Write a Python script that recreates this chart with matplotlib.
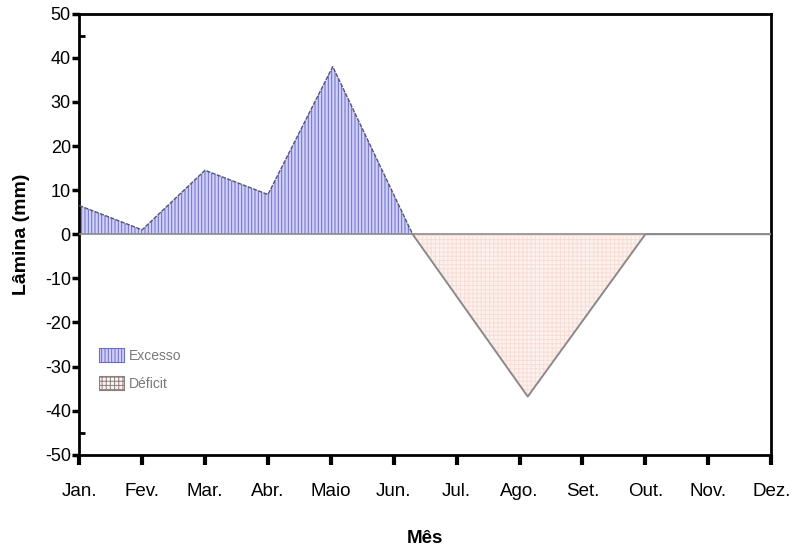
import numpy as np
import matplotlib.pyplot as plt
from matplotlib.patches import Patch

plt.rcParams['font.family'] = ['Liberation Sans', 'DejaVu Sans']
plt.rcParams['axes.unicode_minus'] = False
plt.rcParams['hatch.linewidth'] = 0.7

# dados (posicao em meses a partir de Jan.)
meses = ['Jan.', 'Fev.', 'Mar.', 'Abr.', 'Maio', 'Jun.', 'Jul.', 'Ago.', 'Set.', 'Out.', 'Nov.', 'Dez.']
mes_pos = [0, 1, 2, 3, 4.03, 5.3, 7.13, 9.0, 11]
lamina = [6.5, 1.0, 14.5, 9.0, 38.0, 0.0, -36.8, 0.0, 0.0]

x = np.array(mes_pos)
y = np.array(lamina)

fig = plt.figure(figsize=(8, 5.46), dpi=100)
ax = fig.add_axes([0.099, 0.167, 0.865, 0.808])

# Excesso
ax.fill_between(x, y, 0, where=y >= 0, interpolate=True, facecolor='#d0d0fc',
                edgecolor='#6c6cc0', hatch='|||||', linewidth=0)
# Deficit
ax.fill_between(x, y, 0, where=y <= 0, interpolate=True, facecolor='#fdf2ee',
                edgecolor='#f8dcd6', hatch='++++', linewidth=0)

ax.axhline(0, color='#8c8c8c', lw=1.2, zorder=3)
ax.plot(x[:6], y[:6], color='#555570', lw=1.0, ls=(0, (3, 1)), zorder=4)
ax.plot(x[5:], y[5:], color='#8a8a8a', lw=1.4, zorder=4)

ax.set_xlim(0, 11)
ax.set_ylim(-50, 50)
ax.set_xticks(range(len(meses)))
ax.set_xticklabels(meses)
ax.set_yticks(np.arange(-50, 51, 10))
ax.set_yticks([-45, 45], minor=True)

ax.tick_params(axis='x', which='major', direction='out', length=7, width=3, labelsize=13.5, pad=13)
ax.tick_params(axis='y', which='major', direction='out', length=5, width=2.5, labelsize=13, pad=1)
ax.tick_params(axis='y', which='minor', direction='in', length=4, width=2)
for s in ax.spines.values():
    s.set_linewidth(2)

ax.set_xlabel('Mês', fontsize=13.5, fontweight='bold', labelpad=22)
ax.set_ylabel('Lâmina (mm)', fontsize=14, fontweight='bold', labelpad=11)

handles = [Patch(facecolor='#d0d0fc', edgecolor='#6c6cc0', hatch='|||||', lw=0.8, label='Excesso'),
           Patch(facecolor='#fdf2ee', edgecolor='#8a8080', hatch='++++', lw=0.8, label='Déficit')]
leg = ax.legend(handles=handles, loc='upper left', bbox_to_anchor=(0.01, 0.27), frameon=False,
                fontsize=10, handlelength=1.8, handleheight=1.1, labelspacing=1.0, handletextpad=0.4)
for t in leg.get_texts():
    t.set_color('#7a7a7a')

fig.savefig('out.png', dpi=100)
